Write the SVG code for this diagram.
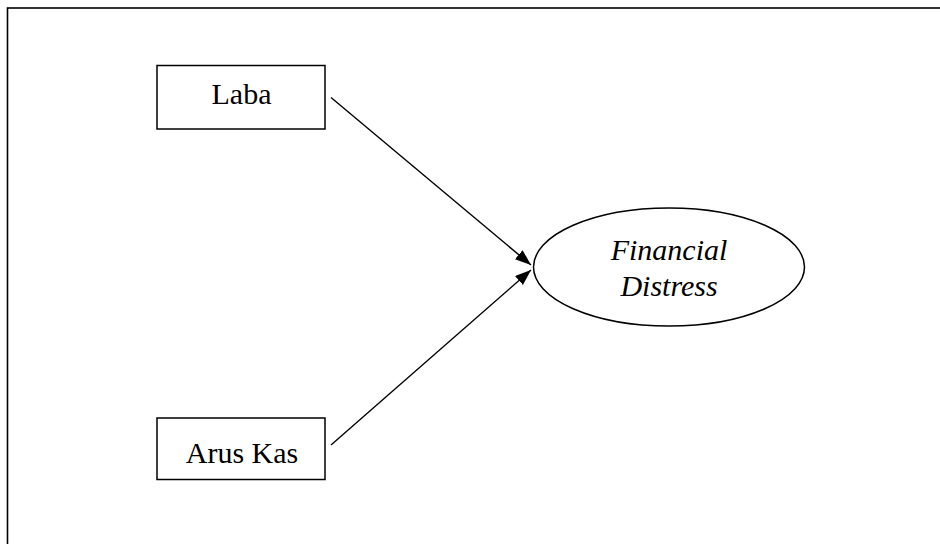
<svg xmlns="http://www.w3.org/2000/svg" width="940" height="544" viewBox="0 0 940 544">
  <style>
    .box { fill: #fff; stroke: #000; stroke-width: 1.5; }
    .lbl { font-family: "Liberation Serif", "Times New Roman", serif; font-size: 30px; fill: #000; text-anchor: middle; }
    .it { font-style: italic; }
    .conn { stroke: #000; stroke-width: 1.4; fill: none; marker-end: url(#arr); }
  </style>
  <defs>
    <marker id="arr" markerUnits="userSpaceOnUse" markerWidth="18" markerHeight="14" refX="16" refY="6" orient="auto">
      <path d="M0,0 L16,6 L0,12 Z" fill="#000"/>
    </marker>
  </defs>
  <rect x="0" y="0" width="940" height="544" fill="#fff"/>
  <rect x="7.5" y="8" width="1000" height="1000" fill="none" stroke="#000" stroke-width="1.6"/>
  <g id="connectors">
    <line class="conn" x1="331" y1="97.5" x2="531" y2="265"/>
    <line class="conn" x1="331" y1="445" x2="531" y2="270"/>
  </g>
  <g id="laba">
    <rect class="box" x="157" y="65.5" width="168" height="63.5"/>
    <text class="lbl" x="241.5" y="104">Laba</text>
  </g>
  <g id="arus-kas">
    <rect class="box" x="157" y="418" width="168" height="61.5"/>
    <text class="lbl" x="242" y="463">Arus Kas</text>
  </g>
  <g id="financial-distress">
    <ellipse class="box" cx="669" cy="267" rx="135.5" ry="59"/>
    <text class="lbl it" x="669" y="259.5">Financial</text>
    <text class="lbl it" x="669" y="296">Distress</text>
  </g>
</svg>
